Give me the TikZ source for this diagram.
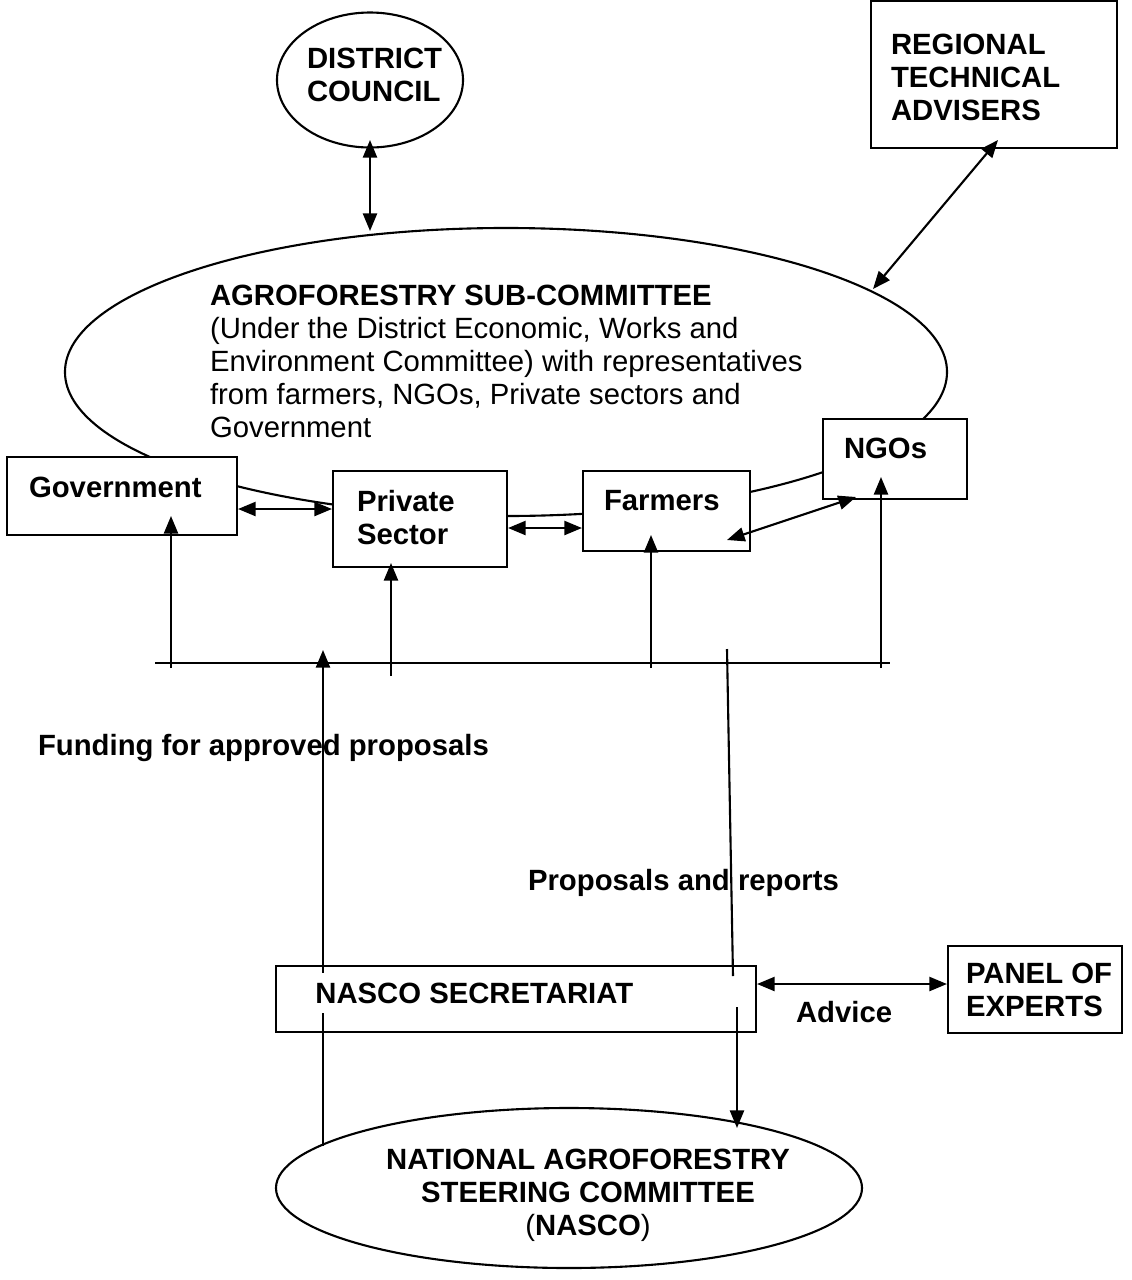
\documentclass[tikz,border=0pt]{standalone}
\usepackage{fontspec}
\setmainfont{Liberation Sans}
\usetikzlibrary{shapes,arrows.meta,fit}

\tikzset{
  box/.style={draw, fill=white, line width=0.9pt, inner sep=0pt},
  oval/.style={draw, ellipse, line width=0.9pt, inner sep=0pt},
  txt/.style={inner sep=0pt, align=left, font=\fontsize{12.5}{14.1}\selectfont},
  bold/.style={txt, font=\fontsize{12.5}{14.1}\selectfont\bfseries},
}

\begin{document}
\begin{tikzpicture}[x=0.015cm, y=-0.015cm, line width=0.9pt, >={Triangle[length=7.5pt,width=6pt]}]
\useasboundingbox (0,0) rectangle (1131,1280);

% district level
\node[oval, minimum width=2.79cm, minimum height=2.025cm] (council) at (370,80) {};
\node[bold, anchor=north west] (councillbl) at (306,47) {DISTRICT\\COUNCIL};

\node[box, fit={(871,1) (1117,148)}] (rta) {};
\node[bold, anchor=north west] (rtalbl) at (890,33) {REGIONAL\\TECHNICAL\\ADVISERS};

\node[oval, minimum width=13.23cm, minimum height=4.32cm] (asc) at (506,372) {};
\node[txt, anchor=north west] (asclbl) at (209,284) {{\bfseries AGROFORESTRY SUB-COMMITTEE}\\(Under the District Economic, Works and\\Environment Committee) with representatives\\from farmers, NGOs, Private sectors and\\Government};

\coordinate (dcin) at (370,140);
\coordinate (ascin) at (370,231);
\draw[<->] (dcin) -- (ascin);
\coordinate (rtain) at (998,140);
\coordinate (ascright) at (873,289);
\draw[<->] (rtain) -- (ascright);

% members
\node[box, fit={(7,457) (237,535)}] (gov) {};
\node[bold, anchor=base west] (govlbl) at (28,497) {Government};
\node[box, fit={(333,471) (507,567)}] (priv) {};
\node[bold, anchor=north west] (privlbl) at (356,489) {Private\\Sector};
\node[box, fit={(583,471) (750,551)}] (farm) {};
\node[bold, anchor=base west] (farmlbl) at (603,510) {Farmers};
\node[box, fit={(823,419) (967,499)}] (ngo) {};
\node[bold, anchor=base west] (ngolbl) at (843,458) {NGOs};

\draw[<->] (gov.east |- 0,509) -- (priv.west |- 0,509);
\draw[<->] (priv.east |- 0,528) -- (farm.west |- 0,528);
\coordinate (farmin) at (727,540);
\coordinate (ngoin) at (856,497);
\draw[<->] (farmin) -- (ngoin);

% funding bus
\coordinate (busL) at (155,663);
\coordinate (busR) at (890,663);
\draw (busL) -- (busR);
\coordinate (govfoot) at (171,668);
\coordinate (govtip) at (171,516);
\draw[->] (govfoot) -- (govtip);
\coordinate (privfoot) at (391,676);
\coordinate (privtip) at (391,563);
\draw[->] (privfoot) -- (privtip);
\coordinate (farmfoot) at (651,668);
\coordinate (farmtip) at (651,535);
\draw[->] (farmfoot) -- (farmtip);
\coordinate (ngofoot) at (881,668);
\coordinate (ngotip) at (881,477);
\draw[->] (ngofoot) -- (ngotip);

\node[bold, anchor=base west] (funding) at (37,755) {Funding for approved proposals};
\node[bold, anchor=base west] (proposals) at (527,890) {Proposals and reports};

% national level
\node[draw, inner sep=0pt, fit={(276,966) (756,1032)}] (sec) {};
\node[box, fit={(948,946) (1122,1033)}] (panel) {};
\node[bold, anchor=north west] (panellbl) at (965,962) {PANEL OF\\EXPERTS};
\draw[<->] (sec.east |- 0,984) -- (panel.west |- 0,984);
\node[bold, anchor=base west] (advice) at (795,1022) {Advice};

\node[oval, minimum width=8.79cm, minimum height=2.4cm] (nasco) at (569,1188) {};
\node[bold, align=center, anchor=north] (nascolbl) at (588,1148) {NATIONAL AGROFORESTRY\\STEERING COMMITTEE\\{\mdseries(}NASCO{\mdseries)}};

\coordinate (fundfoot) at (323,1146);
\coordinate (fundtip) at (323,650);
\draw[->] (fundfoot) -- (fundtip);
\coordinate (propstart) at (727,649);
\coordinate (propend) at (733,976);
\draw (propstart) -- (propend);
\coordinate (propfoot) at (737,1007);
\coordinate (nascoin) at (737,1128);
\draw[->] (propfoot) -- (nascoin);

\node[bold, fill=white, inner xsep=1pt, inner ysep=4pt, anchor=base west] (seclbl) at (312,1003) {NASCO SECRETARIAT};
\end{tikzpicture}
\end{document}
